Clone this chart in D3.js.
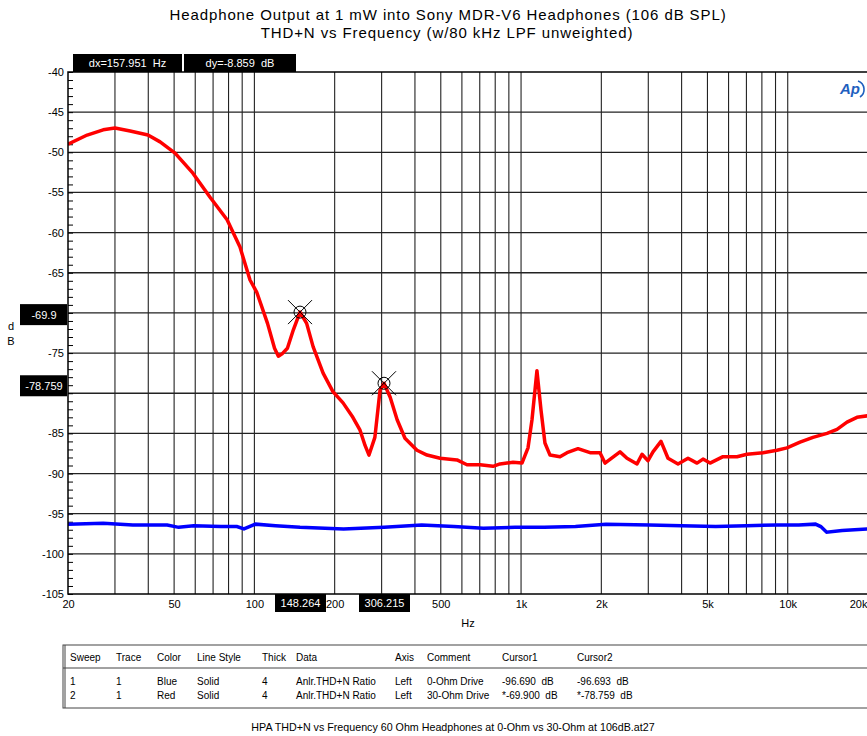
<!DOCTYPE html>
<html>
<head>
<meta charset="utf-8">
<script src="https://cdn.jsdelivr.net/npm/d3@7"></script>
<style>
  body { margin: 0; background: #fff; }
  text { font-family: "Liberation Sans", Arial, sans-serif; }
</style>
</head>
<body>
<svg id="chart" width="867" height="736"></svg>
<script>
// Red trace: 30-Ohm Drive (Hz, dB)
var redFreq = [20, 23.6, 27.1, 30, 34.2, 39.9, 44.3, 50.4, 58.8, 68.2, 79, 88.3, 96.3, 102, 112, 119, 123, 127, 133, 140, 148.264,
  157, 166, 181, 197, 215, 234, 249, 260, 269, 283, 296, 306.215, 323, 343, 367, 407, 444, 497, 575, 627, 702, 785, 834, 886, 933,
  1008, 1062, 1099, 1147, 1188, 1229, 1284, 1400, 1487, 1635, 1814, 1977, 2064, 2350, 2496, 2722, 2842, 2993, 3124, 3348, 3557,
  3878, 4227, 4569, 4811, 5113, 5719, 6454, 7036, 8079, 9116, 9937, 11118, 12437, 14040, 15306, 16684, 18186, 20000];
var redDb = [-49.0, -47.85, -47.2, -46.97, -47.35, -47.85, -48.7, -50.1, -52.6, -55.6, -58.4, -61.8, -65.9, -67.4, -71.3, -74.4, -75.4, -75.1, -74.4, -72.1, -69.9,
  -71.3, -74.2, -77.5, -79.8, -81.2, -83.0, -84.6, -86.5, -87.7, -85.5, -79.6, -78.759, -80.5, -83.3, -85.6, -87.1, -87.7, -88.1, -88.3, -88.9, -88.9, -89.1, -88.8, -88.7, -88.6,
  -88.7, -86.8, -83.3, -77.2, -82.1, -86.2, -87.7, -87.9, -87.4, -86.9, -87.4, -87.4, -88.7, -87.3, -88.1, -88.8, -87.6, -88.4, -87.3, -86.0, -88.1,
  -88.8, -88.1, -88.7, -88.2, -88.7, -87.9, -87.9, -87.6, -87.4, -87.1, -86.8, -86.1, -85.5, -85.0, -84.5, -83.6, -83.0, -82.8];

// Blue trace: 0-Ohm Drive (Hz, dB)
var blueFreq = [20, 27.1, 35, 47.1, 52, 59.2, 75, 86, 91.4, 101, 120, 148.264, 216, 306.215, 424, 560, 722, 950, 1220, 1600, 2080, 3030,
  4000, 5370, 7000, 9080, 11000, 12700, 13300, 14000, 16000, 20000];
var blueDb = [-96.3, -96.2, -96.4, -96.4, -96.7, -96.5, -96.6, -96.6, -96.9, -96.3, -96.5, -96.69, -96.9, -96.69, -96.4, -96.6, -96.8, -96.7, -96.7, -96.6, -96.3, -96.4,
  -96.5, -96.6, -96.5, -96.4, -96.4, -96.3, -96.6, -97.3, -97.1, -96.9];

var yTickVals = [-40, -45, -50, -55, -60, -65, -75, -85, -90, -95, -100, -105];
var xLabelVals = [20, 50, 100, 200, 500, 1000, 2000, 5000, 10000, 20000];
var xLabelText = ["20", "50", "100", "200", "500", "1k", "2k", "5k", "10k", "20k"];

var cursorFreq = [148.264, 306.215];
var cursorDb = [-69.9, -78.759];
var cursorYText = ["-69.9", "-78.759"];
var cursorXText = ["148.264", "306.215"];
var readoutText = ["dx=157.951  Hz", "dy=-8.859  dB"];

var tableHead = ["Sweep", "Trace", "Color", "Line Style", "Thick", "Data", "Axis", "Comment", "Cursor1", "Cursor2"];
var tableRow1 = ["1", "1", "Blue", "Solid", "4", "Anlr.THD+N Ratio", "Left", "0-Ohm Drive", "-96.690  dB", "-96.693  dB"];
var tableRow2 = ["2", "1", "Red", "Solid", "4", "Anlr.THD+N Ratio", "Left", "30-Ohm Drive", "*-69.900  dB", "*-78.759  dB"];

var svg = d3.select("#chart");

var pLeft = 68, pRight = 868, pTop = 72, pBottom = 594;

var x = d3.scaleLog().domain([20, 20000]).range([pLeft, pRight]);
var y = d3.scaleLinear().domain([-105, -40]).range([pBottom, pTop]);

// Title
svg.append("text").attr("x", 448).attr("y", 20).attr("text-anchor", "middle")
  .style("font-size", "15px").style("letter-spacing", "0.9px")
  .text("Headphone Output at 1 mW into Sony MDR-V6 Headphones (106 dB SPL)");
svg.append("text").attr("x", 447).attr("y", 38).attr("text-anchor", "middle")
  .style("font-size", "15px").style("letter-spacing", "0.9px")
  .text("THD+N vs Frequency (w/80 kHz LPF unweighted)");

// Clip for the plot area
svg.append("clipPath").attr("id", "plotclip")
  .append("rect").attr("x", pLeft).attr("y", pTop).attr("width", pRight - pLeft).attr("height", pBottom - pTop);

// Vertical grid
svg.append("g")
  .selectAll("line")
  .data(x.ticks().filter(function (d) { return d > 20 && d < 20000; }))
  .enter().append("line")
  .attr("x1", function (d) { return x(d); })
  .attr("x2", function (d) { return x(d); })
  .attr("y1", pTop).attr("y2", pBottom)
  .style("stroke", "#222").style("stroke-width", 1.1);

// Horizontal grid
svg.append("g")
  .selectAll("line")
  .data(d3.range(-100, -40, 5))
  .enter().append("line")
  .attr("x1", pLeft).attr("x2", pRight)
  .attr("y1", function (d) { return y(d); })
  .attr("y2", function (d) { return y(d); })
  .style("stroke", "#222").style("stroke-width", 1.3);

// Minor ticks on the left axis, pointing into the plot
svg.append("g")
  .attr("transform", "translate(" + pLeft + ",0)")
  .call(d3.axisLeft(y).ticks(65).tickSize(-5).tickFormat(""))
  .call(function (g) { g.select(".domain").remove(); })
  .selectAll("line").style("stroke", "#000");

// Y tick labels
svg.append("g")
  .attr("transform", "translate(" + pLeft + ",0)")
  .call(d3.axisLeft(y).tickValues(yTickVals).tickSize(0).tickPadding(4).tickFormat(function (d) { return d; }))
  .call(function (g) { g.select(".domain").remove(); })
  .selectAll("text").style("font-size", "11px").style("font-family", "Liberation Sans, Arial, sans-serif");

// X tick labels
var xAxisG = svg.append("g")
  .attr("transform", "translate(0," + pBottom + ")")
  .call(d3.axisBottom(x).tickValues(xLabelVals).tickSize(0).tickPadding(6)
    .tickFormat(function (d, i) { return xLabelText[i]; }))
  .call(function (g) { g.select(".domain").remove(); });
xAxisG.selectAll("text").style("font-size", "11px").style("font-family", "Liberation Sans, Arial, sans-serif");
// last label sits at the window edge, keep it inside
xAxisG.selectAll(".tick").filter(function (d) { return d === 20000; })
  .select("text").attr("text-anchor", "end").attr("dx", -1);

// Axis titles
svg.append("text").attr("x", 468).attr("y", 627).attr("text-anchor", "middle")
  .style("font-size", "11px").text("Hz");
svg.append("text").attr("x", 11).attr("y", 330).attr("text-anchor", "middle")
  .style("font-size", "11px").text("d");
svg.append("text").attr("x", 11).attr("y", 345).attr("text-anchor", "middle")
  .style("font-size", "11px").text("B");

// Traces
var line = d3.line()
  .x(function (d) { return x(d[0]); })
  .y(function (d) { return y(d[1]); });

var plot = svg.append("g").attr("clip-path", "url(#plotclip)");

plot.append("path")
  .attr("d", line(d3.zip(blueFreq, blueDb)))
  .style("fill", "none").style("stroke", "#0000ff").style("stroke-width", 3.5);

plot.append("path")
  .attr("d", line(d3.zip(redFreq, redDb)))
  .style("fill", "none").style("stroke", "#ff0000").style("stroke-width", 3.5)
  .style("stroke-linejoin", "round");

// Plot frame
svg.append("rect")
  .attr("x", pLeft).attr("y", pTop).attr("width", pRight - pLeft).attr("height", pBottom - pTop)
  .style("fill", "none").style("stroke", "#000").style("stroke-width", 1.5);

// Cursor markers
cursorFreq.forEach(function (f, i) {
  var cx = x(f), cy = y(cursorDb[i]);
  var m = svg.append("g").style("stroke", "#000").style("stroke-width", 1).style("fill", "none");
  m.append("circle").attr("cx", cx).attr("cy", cy).attr("r", 6);
  m.append("line").attr("x1", cx - 12).attr("y1", cy - 12).attr("x2", cx + 12).attr("y2", cy + 12);
  m.append("line").attr("x1", cx - 12).attr("y1", cy + 12).attr("x2", cx + 12).attr("y2", cy - 12);

  // x readout box
  svg.append("rect").attr("x", cx - 25).attr("y", pBottom).attr("width", 51).attr("height", 18).style("fill", "#000");
  svg.append("text").attr("x", cx + 0.5).attr("y", pBottom + 13).attr("text-anchor", "middle")
    .style("fill", "#fff").style("font-size", "11px").text(cursorXText[i]);

  // y readout box
  svg.append("rect").attr("x", 20).attr("y", cy - 8).attr("width", 47).attr("height", 21).style("fill", "#000");
  svg.append("text").attr("x", 44).attr("y", cy + 7).attr("text-anchor", "middle")
    .style("fill", "#fff").style("font-size", "11px").text(cursorYText[i]);
});

// dx / dy readouts
var readX = [73, 184], readW = [109, 112];
readoutText.forEach(function (t, i) {
  svg.append("rect").attr("x", readX[i]).attr("y", 54).attr("width", readW[i]).attr("height", 18).style("fill", "#000");
  svg.append("text").attr("x", readX[i] + readW[i] / 2).attr("y", 67).attr("text-anchor", "middle")
    .style("fill", "#fff").style("font-size", "11px").style("white-space", "pre").text(t);
});

// AP logo
var logo = svg.append("g").attr("transform", "translate(838,80)");
logo.append("text").attr("x", 2).attr("y", 14).style("font-size", "15px").style("font-style", "italic")
  .style("font-weight", "bold").style("fill", "#1f5fbf").text("Ap");
logo.append("path").attr("d", "M20,1 A9,9 0 0 1 22,17")
  .style("fill", "none").style("stroke", "#1f5fbf").style("stroke-width", 1.6);

// Legend table
var colX = [70, 116, 157, 197, 262, 296, 395, 427, 502, 577];
svg.append("rect").attr("x", 63).attr("y", 645).attr("width", 820).attr("height", 63)
  .style("fill", "none").style("stroke", "#444").style("stroke-width", 1);
svg.append("line").attr("x1", 65).attr("x2", 65).attr("y1", 645).attr("y2", 708)
  .style("stroke", "#444").style("stroke-width", 1);
svg.append("line").attr("x1", 63).attr("x2", 867).attr("y1", 668).attr("y2", 668)
  .style("stroke", "#444").style("stroke-width", 1);

[tableHead, tableRow1, tableRow2].forEach(function (row, r) {
  var ty = [661, 685, 699][r];
  svg.append("g").selectAll("text")
    .data(row)
    .enter().append("text")
    .attr("x", function (d, i) { return colX[i]; })
    .attr("y", ty)
    .style("font-size", "10px")
    .style("white-space", "pre")
    .text(function (d) { return d; });
});

svg.append("text").attr("x", 453).attr("y", 731).attr("text-anchor", "middle")
  .style("font-size", "10.7px").text("HPA THD+N vs Frequency 60 Ohm Headphones at 0-Ohm vs 30-Ohm at 106dB.at27");
</script>
</body>
</html>
